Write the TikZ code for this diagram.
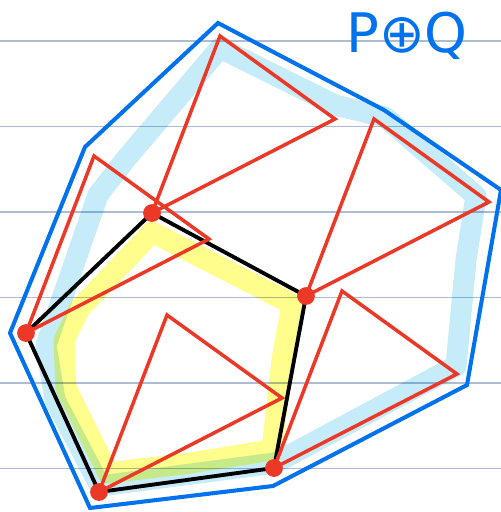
\documentclass[tikz,border=0pt]{standalone}
\usepackage{fontspec}
\setmainfont{DejaVu Sans}
\usetikzlibrary{calc}

\definecolor{rulegray}{RGB}{172,188,212}
\definecolor{hullblue}{RGB}{0,114,238}
\definecolor{qred}{RGB}{236,56,38}
\definecolor{hlblue}{RGB}{198,236,250}
\definecolor{hlyellow}{RGB}{255,253,140}

\begin{document}
\begin{tikzpicture}[
  x=0.02cm, y=-0.02cm,
  rule/.style    ={draw=rulegray, line width=1pt},
  hull/.style    ={draw=hullblue, line width=2.3pt, line join=miter},
  pgon/.style    ={draw=black, line width=2.2pt, line join=miter},
  qtri/.style    ={draw=qred, line width=2pt, line join=miter},
  vdot/.style    ={fill=qred, draw=qred, line width=1pt},
  hilite/.style  ={line width=12pt, line join=round, line cap=round},
]
\useasboundingbox (0,0) rectangle (501,512);

%% ---- Ruled lines ----
\foreach \y in {41,126.5,212,297.5,383,468.5}
  \draw[rule] (0,\y) -- (501,\y);

%% ---- Polygon P ----
\coordinate (pA) at (152,213);
\coordinate (pB) at (306,296);
\coordinate (pC) at (274,468);
\coordinate (pD) at (99,492);
\coordinate (pE) at (26,333);

%% ---- Hull P+Q ----
\coordinate (h1) at (218,23);
\coordinate (h2) at (384,110);
\coordinate (h3) at (501,190);
\coordinate (h4) at (467,385);
\coordinate (h5) at (273,486);
\coordinate (h6) at (90,508);
\coordinate (h7) at (10,333);
\coordinate (h8) at (85,147);

%% ---- Highlighter strokes ----
\begin{scope}[blend mode=multiply]
\draw[hilite, hlblue] (220,48) -- (335,105) -- (385,117) -- (476,196)
  -- (466,260) -- (456,366) -- (275,463) -- (100,486) -- (55,400)
  -- (46,345) -- (72,270) -- (98,195) -- (125,160) -- cycle;
\draw[hilite, hlyellow] (152,232) -- (292,304) -- (282,360) -- (272,450)
  -- (190,463) -- (108,473) -- (66,388) -- (64,340) -- (80,308)
  -- (124,262) -- cycle;
\end{scope}

%% ---- Outlines ----
\draw[pgon] (pA) -- (pB) -- (pC) -- (pD) -- (pE) -- cycle;
\draw[hull] (h1) -- (h2) -- (h3) -- (h4) -- (h5) -- (h6) -- (h7) -- (h8) -- cycle;

%% ---- Copies of Q at each vertex of P ----
\foreach \v in {pA,pB,pC,pD,pE}
  \draw[qtri] (\v) -- ++(68,-177) -- ++(115,83) -- cycle;

%% ---- Vertex marks ----
\foreach \v in {pA,pB,pC,pD,pE}
  \filldraw[vdot] (\v) circle (8);

%% ---- Title ----
\node[text=hullblue, font=\fontsize{31}{31}\selectfont, inner sep=0pt] (title) at (407,36) {P⊕Q};

\end{tikzpicture}
\end{document}
